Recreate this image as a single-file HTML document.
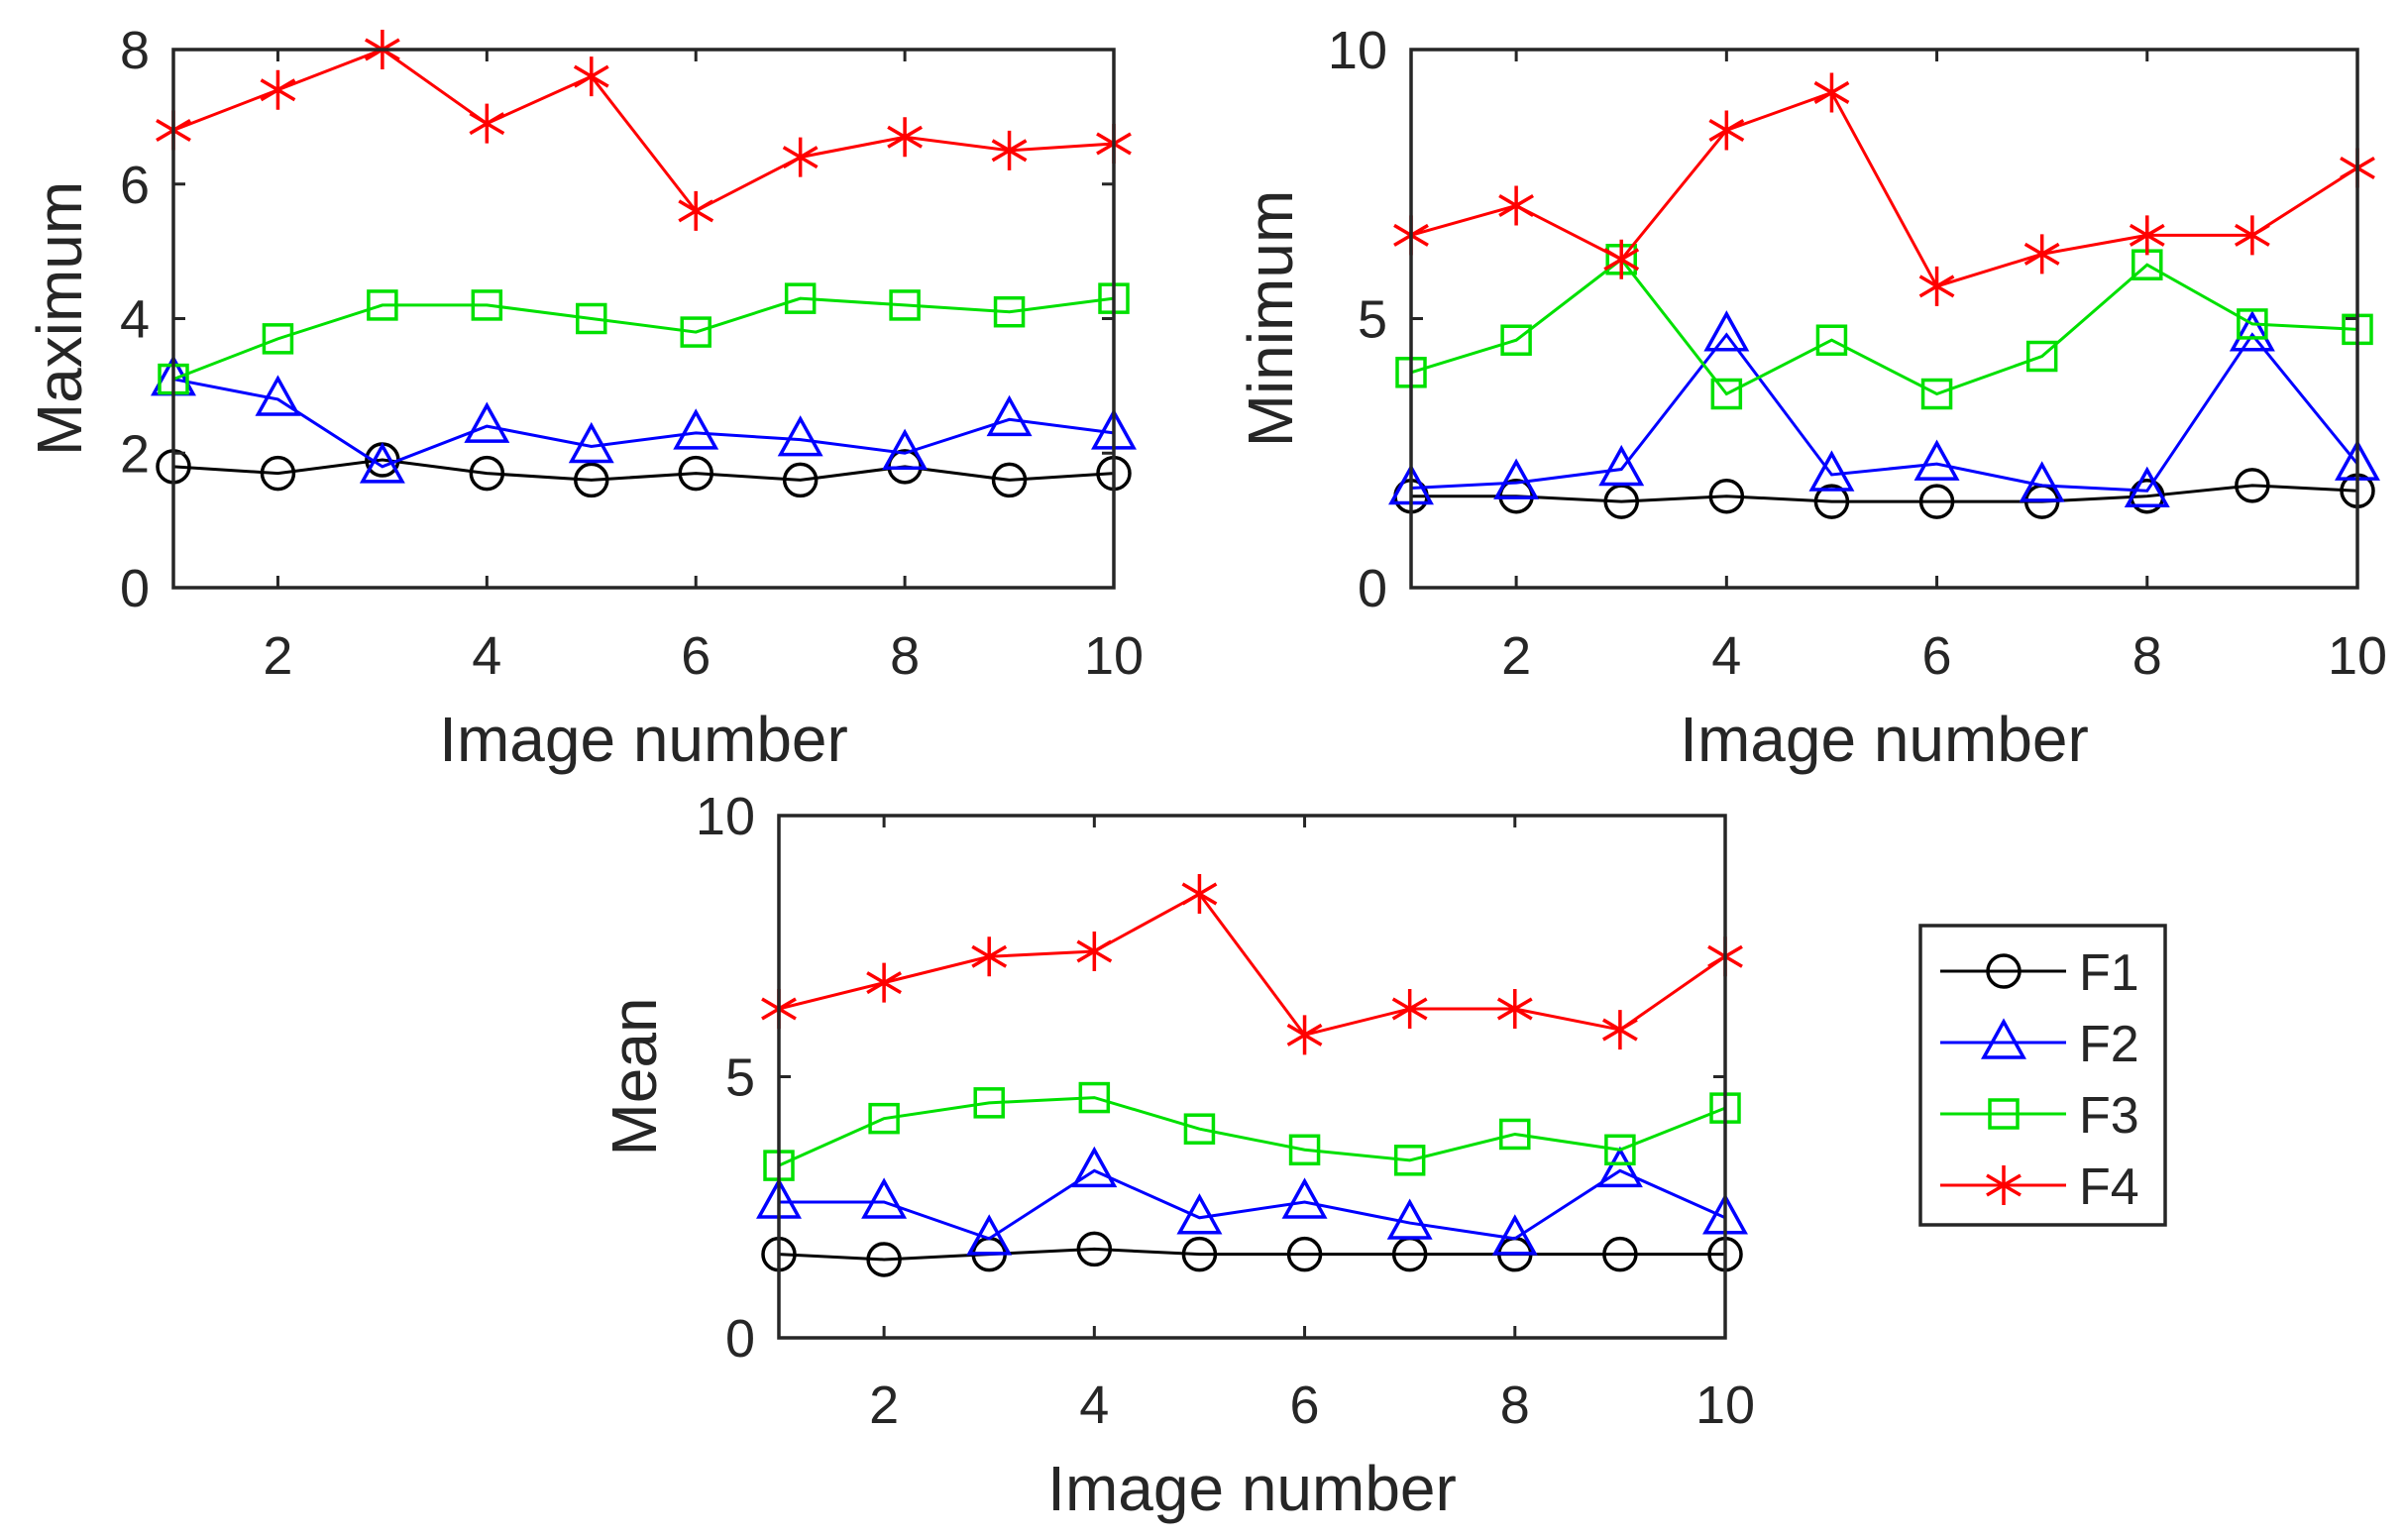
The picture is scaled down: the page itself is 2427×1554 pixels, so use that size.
<!DOCTYPE html>
<html><head><meta charset="utf-8"><style>
html,body{margin:0;padding:0;background:#fff;}
svg{display:block;font-family:"Liberation Sans",sans-serif;}
</style></head><body>
<svg id="fig" width="2427" height="1554" viewBox="0 0 2427 1554" xmlns="http://www.w3.org/2000/svg"></svg>
<script>
const imageNumbers = [1,2,3,4,5,6,7,8,9,10];
const xTicks = [2,4,6,8,10];
const maxF1 = [1.8,1.7,1.9,1.7,1.6,1.7,1.6,1.8,1.6,1.7];
const maxF2 = [3.1,2.8,1.8,2.4,2.1,2.3,2.2,2.0,2.5,2.3];
const maxF3 = [3.1,3.7,4.2,4.2,4.0,3.8,4.3,4.2,4.1,4.3];
const maxF4 = [6.8,7.4,8.0,6.9,7.6,5.6,6.4,6.7,6.5,6.6];
const maxTicks = [0,2,4,6,8];
const minF1 = [1.7,1.7,1.6,1.7,1.6,1.6,1.6,1.7,1.9,1.8];
const minF2 = [1.85,1.95,2.2,4.7,2.1,2.3,1.9,1.8,4.7,2.3];
const minF3 = [4.0,4.6,6.1,3.6,4.6,3.6,4.3,6.0,4.9,4.8];
const minF4 = [6.55,7.1,6.1,8.5,9.2,5.6,6.2,6.55,6.55,7.8];
const minTicks = [0,5,10];
const meanF1 = [1.6,1.5,1.6,1.7,1.6,1.6,1.6,1.6,1.6,1.6];
const meanF2 = [2.6,2.6,1.9,3.2,2.3,2.6,2.2,1.9,3.2,2.3];
const meanF3 = [3.3,4.2,4.5,4.6,4.0,3.6,3.4,3.9,3.6,4.4];
const meanF4 = [6.3,6.8,7.3,7.4,8.5,5.8,6.3,6.3,5.9,7.3];
const meanTicks = [0,5,10];
const seriesNames = ["F1","F2","F3","F4"];
const seriesColors = ["#000000","#0000ff","#00e000","#ff0000"];
const seriesMarkers = ["circle","triangle","square","star"];

const NS="http://www.w3.org/2000/svg";
const svg=document.getElementById('fig');
function mk(tag,attrs,parent){const e=document.createElementNS(NS,tag);for(const k in attrs)e.setAttribute(k,attrs[k]);(parent||svg).appendChild(e);return e;}

function marker(g,type,cx,cy,color){
  let e;
  if(type==="circle"){e=mk('circle',{cx:cx,cy:cy,r:16,fill:'none',stroke:color,'stroke-width':3.5},g);}
  else if(type==="triangle"){e=mk('polygon',{points:`${cx},${cy-21} ${cx-20},${cy+15} ${cx+20},${cy+15}`,fill:'none',stroke:color,'stroke-width':3.5},g);}
  else if(type==="square"){e=mk('rect',{x:cx-14,y:cy-14,width:28,height:28,fill:'none',stroke:color,'stroke-width':3.5},g);}
  else {e=mk('path',{d:`M${cx},${cy-20}V${cy+20}M${cx-17},${cy-10}L${cx+17},${cy+10}M${cx-17},${cy+10}L${cx+17},${cy-10}`,stroke:color,'stroke-width':3.5,fill:'none'},g);}
  
  
}

function panel(name,L,R,T,B,yMax,yTicks,ylabel,ylabelX,series,xlabelY,xtickY){
  const g=mk('g',{});
  
  
  const xs=v=>L+(v-1)/9*(R-L);
  const ys=v=>B-v/yMax*(B-T);
  series.forEach((vals,si)=>{
    const sg=mk('g',{},g);
    
    
    const pts=vals.map((v,i)=>xs(imageNumbers[i])+','+ys(v)).join(' ');
    const pl=mk('polyline',{points:pts,fill:'none',stroke:seriesColors[si],'stroke-width':3},sg);
    
    
    vals.forEach((v,i)=>marker(sg,seriesMarkers[si],xs(imageNumbers[i]),ys(v),seriesColors[si]));
  });
  const box=mk('rect',{x:L,y:T,width:R-L,height:B-T,fill:'none',stroke:'#262626','stroke-width':3.5},g);
  
  
  xTicks.forEach(t=>{
    const x=xs(t);
    mk('line',{x1:x,y1:B,x2:x,y2:B-12,stroke:'#262626','stroke-width':3},g);
    mk('line',{x1:x,y1:T,x2:x,y2:T+12,stroke:'#262626','stroke-width':3},g);
    const tx=mk('text',{x:x,y:xtickY,'text-anchor':'middle','font-size':54,fill:'#262626'},g);
    tx.textContent=t;
    
    
  });
  yTicks.forEach(t=>{
    const y=ys(t);
    mk('line',{x1:L,y1:y,x2:L+12,y2:y,stroke:'#262626','stroke-width':3},g);
    mk('line',{x1:R,y1:y,x2:R-12,y2:y,stroke:'#262626','stroke-width':3},g);
    const tx=mk('text',{x:L-24,y:y+19,'text-anchor':'end','font-size':54,fill:'#262626'},g);
    tx.textContent=t;
    
    
  });
  const xl=mk('text',{x:(L+R)/2,y:xlabelY,'text-anchor':'middle','font-size':64,fill:'#262626'},g);
  xl.textContent='Image number';
  
  
  const cy=(T+B)/2;
  const yl=mk('text',{x:ylabelX,y:cy,'text-anchor':'middle','font-size':64,fill:'#262626',transform:`rotate(-90 ${ylabelX} ${cy})`},g);
  yl.textContent=ylabel;
  
  
}

panel('maximum-chart',175,1124,50,593,8,maxTicks,'Maximum',82,[maxF1,maxF2,maxF3,maxF4],768,680);
panel('minimum-chart',1424,2379,50,593,10,minTicks,'Minimum',1304,[minF1,minF2,minF3,minF4],768,680);
panel('mean-chart',786,1741,823,1350,10,meanTicks,'Mean',662,[meanF1,meanF2,meanF3,meanF4],1524,1436);

// legend
const lg=mk('g',{});


mk('rect',{x:1938,y:934,width:247,height:302,fill:'#fff',stroke:'#262626','stroke-width':3.5},lg);
seriesNames.forEach((n,i)=>{
  const y=980+i*72;
  const eg=mk('g',{},lg);
  
  
  mk('line',{x1:1958,y1:y,x2:2085,y2:y,stroke:seriesColors[i],'stroke-width':3},eg);
  marker(eg,seriesMarkers[i],2022,y,seriesColors[i]);
  const t=mk('text',{x:2098,y:y+19,'font-size':52,fill:'#262626'},eg);
  t.textContent=n;
});
</script>
</body></html>
